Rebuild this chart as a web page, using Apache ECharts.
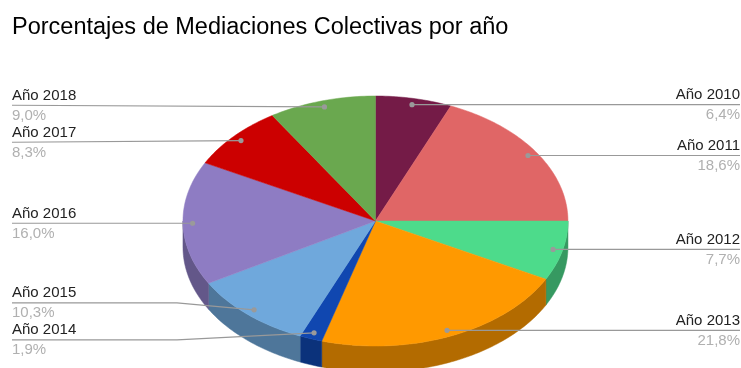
<!DOCTYPE html>
<html>
<head>
<meta charset="utf-8">
<script src="https://cdn.jsdelivr.net/npm/echarts@6/dist/echarts.min.js"></script>
<style>
html,body{margin:0;padding:0;background:#fff;}
#chart{width:741px;height:368px;}
</style>
</head>
<body>
<div id="chart"></div>
<script>
var titleText = 'Porcentajes de Mediaciones Colectivas por año';
var categories = ['Año 2010','Año 2011','Año 2012','Año 2013','Año 2014','Año 2015','Año 2016','Año 2017','Año 2018'];
var values = [6.4, 18.6, 7.7, 21.8, 1.9, 10.3, 16.0, 8.3, 9.0];
var colors = ['#741b47','#e06666','#4ddb8b','#ff9900','#1047b0','#6fa8dc','#8e7cc3','#cc0000','#6aa84f'];

var FONT = "'Liberation Sans', Arial, sans-serif";
var total = values.reduce(function(a,b){return a+b;},0);
var starts = [];
(function(){var acc=0; for(var i=0;i<values.length;i++){starts.push(acc); acc+=values[i];}})();

function shade(hex, f){
  var n=parseInt(hex.slice(1),16);
  var r=Math.round(((n>>16)&255)*f), g=Math.round(((n>>8)&255)*f), b=Math.round((n&255)*f);
  return 'rgb('+r+','+g+','+b+')';
}
function fmt(v){return v.toFixed(1).replace('.',',')+'%';}

var chart = echarts.init(document.getElementById('chart'), null, {renderer:'canvas'});

function geom(api){
  var W = api.getWidth();
  return {cx: W*0.5067, cy: 221, rx: 192.5, ry: 125, depth: 26, r0: 0.95};
}
function pt(g, deg, k, dy){
  var t = deg*Math.PI/180;
  return [g.cx + k*g.rx*Math.sin(t), g.cy - k*g.ry*Math.cos(t) + (dy||0)];
}

// label layout (avoid overlap)
function layoutLabels(g){
  var items = values.map(function(v,i){
    var mid = (starts[i] + v/2)/total*360;
    var p = pt(g, mid, g.r0);
    return {i:i, mid:mid, dot:p, side: mid < 180 ? 'right' : 'left', ly:p[1]};
  });
  var GAP = 37;
  ['left','right'].forEach(function(side){
    var arr = items.filter(function(it){return it.side===side;}).sort(function(a,b){return a.dot[1]-b.dot[1];});
    var clusters = arr.map(function(it){return {its:[it]};});
    function center(c){var s=0;c.its.forEach(function(it){s+=it.dot[1];});return s/c.its.length;}
    var merged = true;
    while(merged){
      merged=false;
      for(var k=0;k<clusters.length-1;k++){
        var a=clusters[k], b=clusters[k+1];
        var ca=center(a), cb=center(b);
        var aEnd = ca + (a.its.length-1)*GAP/2;
        var bStart = cb - (b.its.length-1)*GAP/2;
        if(bStart - aEnd < GAP){
          clusters.splice(k,2,{its:a.its.concat(b.its)});
          merged=true; break;
        }
      }
    }
    clusters.forEach(function(c){
      var cc=center(c), n=c.its.length;
      c.its.forEach(function(it,j){ it.ly = cc + (j-(n-1)/2)*GAP; });
    });
  });
  return items;
}

function renderItem(params, api){
  var i = params.dataIndex;
  var g = geom(api);
  var a0 = starts[i]/total*360, a1 = (starts[i]+values[i])/total*360;
  var children = [];
  var step = 1;
  // side wall (front half: 90..270 deg)
  var s0 = Math.max(a0, 90), s1 = Math.min(a1, 270);
  if(s1 > s0){
    var top=[], bot=[];
    for(var d=s0; d<s1; d+=step){ top.push(pt(g,d,1)); bot.push(pt(g,d,1,g.depth)); }
    top.push(pt(g,s1,1)); bot.push(pt(g,s1,1,g.depth));
    children.push({type:'polygon', z2:1, shape:{points: top.concat(bot.reverse())},
      style:{fill: shade(colors[i],0.7), stroke: shade(colors[i],0.7), lineWidth:0.5}});
  }
  // top face
  var pts=[[g.cx,g.cy]];
  for(var d2=a0; d2<a1; d2+=step){ pts.push(pt(g,d2,1)); }
  pts.push(pt(g,a1,1));
  children.push({type:'polygon', z2:10, shape:{points:pts},
    style:{fill: colors[i], stroke: colors[i], lineWidth:0.5}});
  // label
  var it = layoutLabels(g)[i];
  var W = api.getWidth();
  var leftX = 12, rightX = W - 1;
  var linePts;
  if(it.side==='left'){
    var kx = g.cx - g.rx - 6;
    linePts = (Math.abs(it.ly-it.dot[1])>3) ? [[leftX,it.ly],[kx,it.ly],it.dot] : [[leftX,it.ly],it.dot];
  } else {
    var kx2 = g.cx + g.rx + 6;
    linePts = (Math.abs(it.ly-it.dot[1])>3) ? [it.dot,[kx2,it.ly],[rightX,it.ly]] : [it.dot,[rightX,it.ly]];
  }
  children.push({type:'polyline', z2:20, shape:{points:linePts}, style:{stroke:'#999999', lineWidth:1.2, fill:null}});
  children.push({type:'circle', z2:21, shape:{cx:it.dot[0], cy:it.dot[1], r:2.6}, style:{fill:'#9a9a9a'}});
  var tx = it.side==='left' ? leftX : rightX;
  var al = it.side==='left' ? 'left' : 'right';
  children.push({type:'text', z2:22, style:{text:categories[i], x:tx, y:it.ly-2, align:al, verticalAlign:'bottom',
    fill:'#222222', fontSize:15, fontFamily:FONT}});
  children.push({type:'text', z2:22, style:{text:fmt(values[i]), x:tx, y:it.ly+3, align:al, verticalAlign:'top',
    fill:'#b0b0b0', fontSize:15, fontFamily:FONT}});
  return {type:'group', children:children};
}

chart.setOption({
  animation:false,
  backgroundColor:'#ffffff',
  title:{text:titleText, left:7, top:11, textStyle:{fontSize:23.5, fontWeight:'normal', color:'#000000', fontFamily:FONT}},
  series:[{
    type:'custom',
    coordinateSystem:'none',
    renderItem: renderItem,
    data: values.map(function(v,i){return {name:categories[i], value:v};})
  }]
});
</script>
</body>
</html>
